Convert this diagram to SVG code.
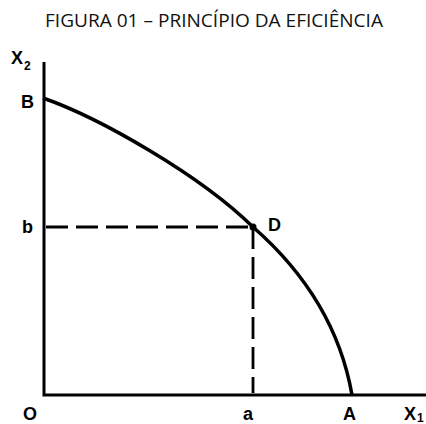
<svg xmlns="http://www.w3.org/2000/svg" width="426" height="424" viewBox="0 0 426 424">
<style>
.title{font-family:"Open Sans","Liberation Sans",sans-serif;font-size:19px;fill:#111}
.lbl{font-family:"Liberation Sans","DejaVu Sans",sans-serif;font-weight:bold;font-size:18px;fill:#000}
.sub{font-family:"Liberation Sans","DejaVu Sans",sans-serif;font-weight:bold;font-size:12px;fill:#000}
.axis{stroke:#000;stroke-width:3;fill:none}
.curve{stroke:#000;stroke-width:3.5;fill:none}
.dash{stroke:#000;stroke-width:2.8;fill:none;stroke-dasharray:22 8}
</style>
<rect width="426" height="424" fill="#fff"/>
<text class="title" x="214" y="27" text-anchor="middle" textLength="338" lengthAdjust="spacingAndGlyphs">FIGURA 01 – PRINCÍPIO DA EFICIÊNCIA</text>
<g id="connectors">
<path class="axis" d="M44,62 V395 H426"/>
<path class="curve" d="M43,98 C100,118 200,175 253,227 C293,262 338,315 352,395"/>
<path class="dash" d="M46,227 H253"/>
<path class="dash" d="M253,227 V393"/>
</g>
<g id="D"><circle cx="253" cy="227" r="3.5" fill="#000"/><text class="lbl" x="268" y="231">D</text></g>
<g id="X2"><text class="lbl" x="11" y="64">X</text><text class="sub" x="24" y="70">2</text></g>
<g id="B"><text class="lbl" x="21" y="108">B</text></g>
<g id="b"><text class="lbl" x="22" y="233">b</text></g>
<g id="O"><text class="lbl" x="23" y="420">O</text></g>
<g id="a"><text class="lbl" x="243" y="420">a</text></g>
<g id="A"><text class="lbl" x="343" y="420">A</text></g>
<g id="X1"><text class="lbl" x="404" y="420">X</text><text class="sub" x="417" y="422">1</text></g>
</svg>
